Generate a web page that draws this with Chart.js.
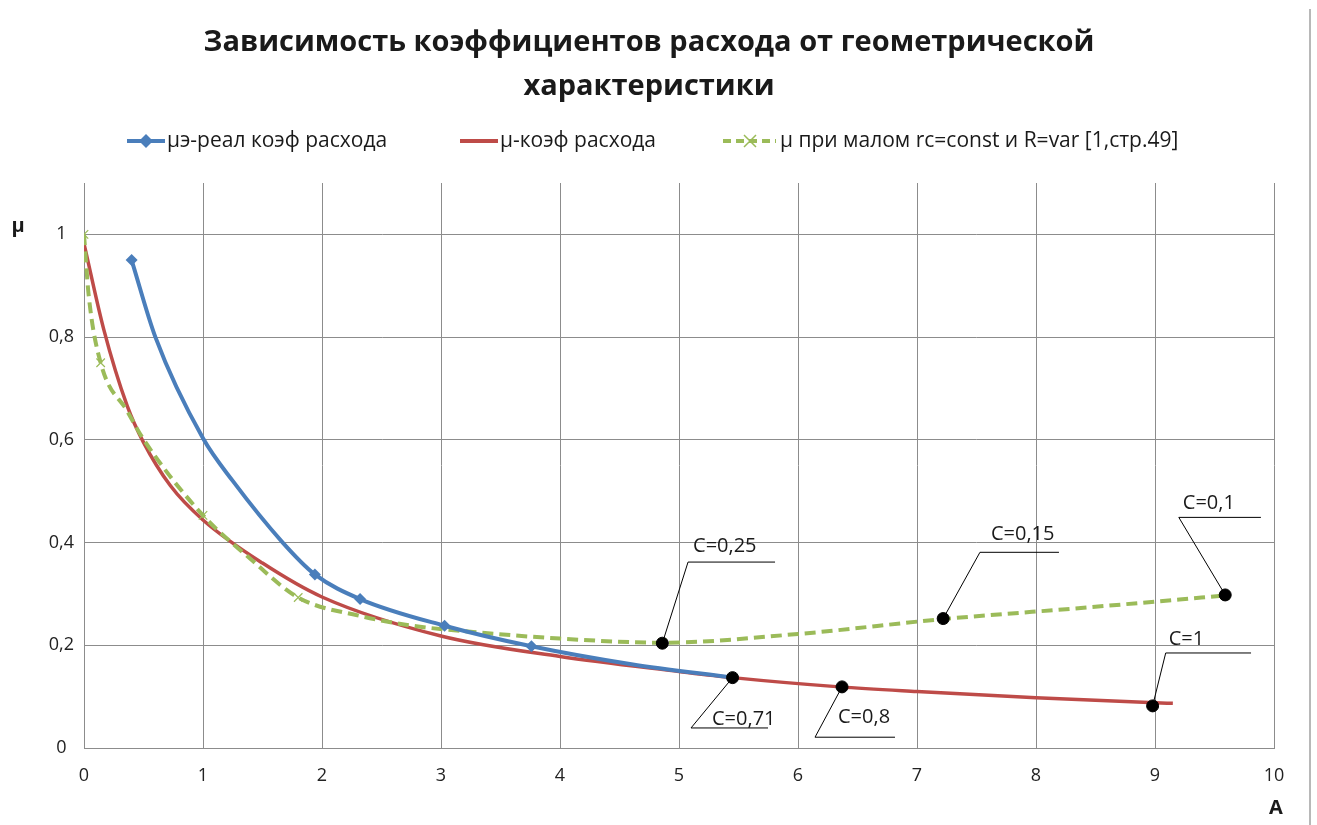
<!DOCTYPE html>
<html>
<head>
<meta charset="utf-8">
<script src="https://cdn.jsdelivr.net/npm/chart.js@4"></script>
<style>
  html, body { margin: 0; padding: 0; background: #fff; }
  #wrap { position: relative; width: 1317px; height: 825px; }
</style>
</head>
<body>
<div id="wrap"><canvas id="c" width="1317" height="825"></canvas></div>
<script>
// ---- Data ----
const titleLines = ['Зависимость коэффициентов расхода от геометрической', 'характеристики'];
const seriesNames = ['μэ-реал коэф расхода', 'μ-коэф расхода', 'μ при малом rc=const и R=var [1,стр.49]'];

// μэ – real discharge coefficient (blue); markers shown only where visible
const realA    = [0.40, 0.60, 1.00, 1.25, 1.67, 1.94, 2.32, 3.03, 3.76, 4.60, 5.45];
const realMu   = [0.95, 0.80, 0.603, 0.52, 0.40, 0.338, 0.29, 0.238, 0.198, 0.163, 0.137];
const realMark = [1, 0, 0, 0, 0, 1, 1, 1, 1, 0, 0];

// μ – discharge coefficient (red, smooth, no markers)
const coefA  = [0.00, 0.167, 0.363, 0.50, 0.725, 1.00, 1.50, 2.00, 3.00, 4.00, 5.00, 5.45, 6.35, 7.00, 8.00, 9.00, 9.15];
const coefMu = [0.982, 0.814, 0.666, 0.595, 0.511, 0.444, 0.36, 0.294, 0.218, 0.178, 0.149, 0.137, 0.119, 0.110, 0.098, 0.088, 0.087];

// μ at small rc=const, R=var (green dashed, x markers where visible)
const smallA    = [0.00, 0.04, 0.14, 0.363, 0.50, 1.00, 1.39, 1.80, 2.32, 2.76, 3.27, 4.00, 4.86, 6.00, 7.22, 8.40, 9.59];
const smallMu   = [1.00, 0.88, 0.75, 0.656, 0.601, 0.453, 0.37, 0.293, 0.257, 0.238, 0.226, 0.213, 0.205, 0.222, 0.251, 0.273, 0.297];
const smallMark = [1, 0, 1, 0, 0, 1, 0, 1, 0, 0, 0, 0, 1, 0, 1, 0, 1];

// Annotated points (C values)
const cLabels = ['C=0,25', 'C=0,71', 'C=0,8', 'C=0,15', 'C=0,1', 'C=1'];
const cA      = [4.86, 5.45, 6.37, 7.22, 9.59, 8.98];
const cMu     = [0.204, 0.137, 0.119, 0.252, 0.298, 0.082];
// underline start / end and height (data units)
const cLineA    = [5.076, 5.101, 6.143, 7.529, 9.20, 9.09];
const cLineEndA = [5.807, 5.748, 6.815, 8.193, 9.89, 9.807];
const cLineMu   = [0.362, 0.039, 0.021, 0.381, 0.449, 0.185];
// text offset from underline start (px): right shift, height of baseline above the underline
const cTextDx = [5, 21, 23, 11, 4, 3];
const cTextDy = [10, 3, 14, 12, 8, 8];

const xTicks = [0, 1, 2, 3, 4, 5, 6, 7, 8, 9, 10];
const yTicks = [0, 0.2, 0.4, 0.6, 0.8, 1.0];

const BLUE = '#4a7ebb', RED = '#be4b48', GREEN = '#9bbb59';
const FONT = '"Open Sans", "Noto Sans", sans-serif';

function pts(xs, ys) { return xs.map((x, i) => ({ x: x, y: ys[i] })); }

const headerPlugin = {
  id: 'header',
  afterDraw(chart) {
    const ctx = chart.ctx;
    const xs = chart.scales.x, ys = chart.scales.y;
    ctx.save();
    // right edge line
    ctx.strokeStyle = '#a0a0a0'; ctx.lineWidth = 1.5;
    ctx.beginPath(); ctx.moveTo(1310, 9); ctx.lineTo(1310, 825); ctx.stroke();
    // title
    ctx.fillStyle = '#1a1a1a';
    ctx.font = 'bold 29px ' + FONT;
    ctx.textAlign = 'center'; ctx.textBaseline = 'middle';
    ctx.fillText(titleLines[0], 649, 43);
    ctx.fillText(titleLines[1], 649, 87);
    // legend
    ctx.font = '21px ' + FONT;
    ctx.textAlign = 'left';
    const ly = 141;
    ctx.strokeStyle = BLUE; ctx.lineWidth = 4; ctx.setLineDash([]);
    ctx.beginPath(); ctx.moveTo(127, ly); ctx.lineTo(165, ly); ctx.stroke();
    ctx.fillStyle = BLUE;
    ctx.beginPath(); ctx.moveTo(146, ly - 7); ctx.lineTo(153, ly); ctx.lineTo(146, ly + 7); ctx.lineTo(139, ly); ctx.closePath(); ctx.fill();
    ctx.fillStyle = '#1a1a1a'; ctx.fillText(seriesNames[0], 167, ly);
    ctx.strokeStyle = RED; ctx.lineWidth = 4;
    ctx.beginPath(); ctx.moveTo(460, ly); ctx.lineTo(498, ly); ctx.stroke();
    ctx.fillStyle = '#1a1a1a'; ctx.fillText(seriesNames[1], 500, ly);
    ctx.strokeStyle = GREEN; ctx.lineWidth = 4; ctx.setLineDash([8, 5]);
    ctx.beginPath(); ctx.moveTo(723, ly); ctx.lineTo(776, ly); ctx.stroke();
    ctx.setLineDash([]); ctx.lineWidth = 1.5;
    ctx.beginPath(); ctx.moveTo(744, ly - 6); ctx.lineTo(756, ly + 6); ctx.moveTo(756, ly - 6); ctx.lineTo(744, ly + 6); ctx.stroke();
    ctx.fillStyle = '#1a1a1a'; ctx.fillText(seriesNames[2], 780, ly);
    // axis titles
    ctx.font = 'bold 20px ' + FONT;
    ctx.textAlign = 'center';
    ctx.fillText('μ', 18, 226);
    ctx.fillText('A', 1276, 808);
    // C annotations
    ctx.font = '20px ' + FONT;
    ctx.strokeStyle = '#000'; ctx.lineWidth = 1;
    ctx.textAlign = 'left'; ctx.textBaseline = 'alphabetic';
    for (let i = 0; i < cLabels.length; i++) {
      const px = xs.getPixelForValue(cA[i]), py = ys.getPixelForValue(cMu[i]);
      const lx = xs.getPixelForValue(cLineA[i]), lyy = ys.getPixelForValue(cLineMu[i]);
      const ex = xs.getPixelForValue(cLineEndA[i]);
      ctx.beginPath(); ctx.moveTo(lx, lyy); ctx.lineTo(px, py); ctx.stroke();
      ctx.beginPath(); ctx.moveTo(lx, lyy); ctx.lineTo(ex, lyy); ctx.stroke();
      ctx.fillStyle = '#1a1a1a';
      ctx.fillText(cLabels[i], lx + cTextDx[i], lyy - cTextDy[i]);
    }
    ctx.restore();
  }
};

new Chart(document.getElementById('c'), {
  type: 'scatter',
  data: {
    datasets: [
      {
        label: seriesNames[1], data: pts(coefA, coefMu), showLine: true,
        borderColor: RED, borderWidth: 3.5, pointRadius: 0,
        cubicInterpolationMode: 'monotone', order: 3
      },
      {
        label: seriesNames[2], data: pts(smallA, smallMu), showLine: true,
        borderColor: GREEN, borderWidth: 4, borderDash: [11, 6],
        cubicInterpolationMode: 'monotone',
        pointStyle: 'crossRot', pointRadius: smallMark.map(m => m ? 6 : 0), pointBorderWidth: 1.2,
        pointBorderColor: GREEN, pointBackgroundColor: GREEN, order: 2
      },
      {
        label: seriesNames[0], data: pts(realA, realMu), showLine: true,
        borderColor: BLUE, borderWidth: 4,
        cubicInterpolationMode: 'monotone',
        pointStyle: 'rectRot', pointRadius: realMark.map(m => m ? 6 : 0), pointBorderWidth: 0,
        pointBackgroundColor: BLUE, order: 1
      },
      {
        label: 'C', data: pts(cA, cMu), showLine: false,
        pointStyle: 'circle', pointRadius: 6, pointBackgroundColor: '#000',
        pointBorderColor: '#000', order: 0
      }
    ]
  },
  options: {
    responsive: false,
    animation: false,
    layout: { padding: { top: 183, right: 43, left: 0, bottom: 0 } },
    plugins: { legend: { display: false }, title: { display: false }, tooltip: { enabled: false } },
    scales: {
      x: {
        type: 'linear', min: 0, max: 10,
        afterFit(s) { s.height = 77; },
        afterBuildTicks(s) { s.ticks = xTicks.map(v => ({ value: v })); },
        grid: { color: '#8c8c8c', lineWidth: 1, drawTicks: false },
        border: { display: true, color: '#8c8c8c' },
        ticks: { font: { family: FONT, size: 18 }, color: '#222', padding: 17, maxRotation: 0,
          callback: v => String(v) }
      },
      y: {
        type: 'linear', min: 0, max: 1.1,
        afterFit(s) { s.width = 84; },
        afterBuildTicks(s) { s.ticks = yTicks.map(v => ({ value: v })); },
        grid: { color: '#8c8c8c', lineWidth: 1, drawTicks: false },
        border: { display: true, color: '#8c8c8c' },
        ticks: { font: { family: FONT, size: 18 }, color: '#222', padding: 10, crossAlign: 'center',
          callback: v => String(Math.round(v * 10) / 10).replace('.', ',') }
      }
    }
  },
  plugins: [headerPlugin]
});
</script>
</body>
</html>
